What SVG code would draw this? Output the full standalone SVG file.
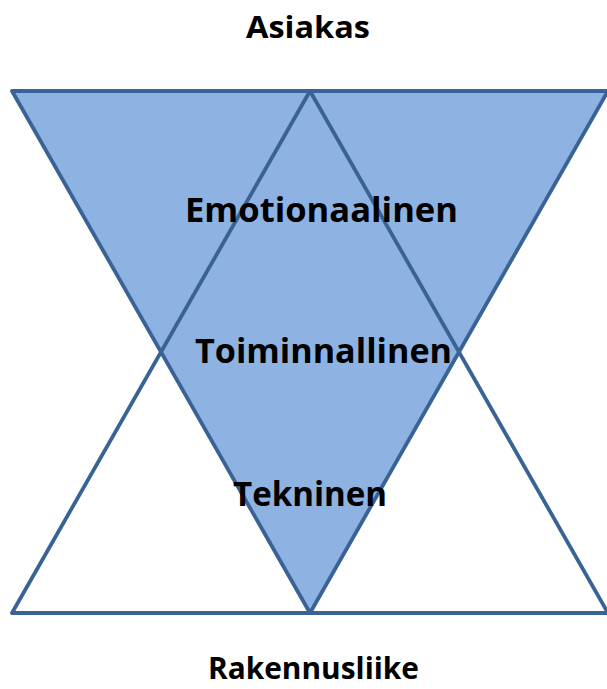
<svg xmlns="http://www.w3.org/2000/svg" width="607" height="689" viewBox="0 0 607 689">
<style>
.tri{stroke:#3A6395;stroke-width:3.8;stroke-linejoin:round}
.lbl{font-family:"Open Sans","Liberation Sans",Arial,sans-serif;font-weight:bold;fill:#000;text-anchor:start}
</style>
<rect width="607" height="689" fill="#fff"/>
<g id="down-triangle">
<polygon class="tri" points="12,91 608,91 310,613" fill="#8EB2E2"/>
</g>
<g id="up-triangle">
<polygon class="tri" points="310,91 12,613 608,613" fill="none"/>
</g>
<g id="asiakas"><text class="lbl" x="246" y="38" font-size="30" textLength="124" lengthAdjust="spacingAndGlyphs">Asiakas</text></g>
<g id="emotionaalinen"><text class="lbl" x="185" y="222" font-size="34" textLength="273" lengthAdjust="spacingAndGlyphs">Emotionaalinen</text></g>
<g id="toiminnallinen"><text class="lbl" x="195" y="363" font-size="34" textLength="257" lengthAdjust="spacingAndGlyphs">Toiminnallinen</text></g>
<g id="tekninen"><text class="lbl" x="233" y="506" font-size="34" textLength="154" lengthAdjust="spacingAndGlyphs">Tekninen</text></g>
<g id="rakennusliike"><text class="lbl" x="208" y="679" font-size="31" textLength="211" lengthAdjust="spacingAndGlyphs">Rakennusliike</text></g>
</svg>
